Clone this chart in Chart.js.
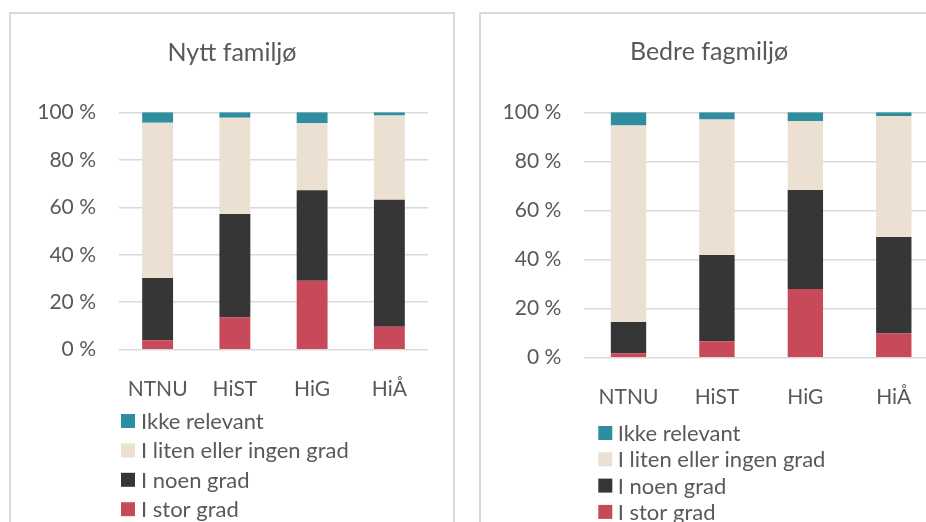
<!DOCTYPE html>
<html>
<head>
<meta charset="utf-8">
<script src="https://cdn.jsdelivr.net/npm/chart.js@4.4.1/dist/chart.umd.min.js"></script>
<style>
    html, body { margin: 0; padding: 0; background: #fff; overflow: hidden; }
    body { width: 926px; height: 522px; position: relative; }
    .box { position: absolute; box-sizing: border-box; border: 2px solid #d9d9d9; background: #fff; }
    canvas { position: absolute; }
</style>
</head>
<body>
<div class="box" style="left:9px; top:12px; width:446px; height:600px;"></div>
<div class="box" style="left:479px; top:12px; width:480px; height:600px;"></div>
<canvas id="chartFamilie" width="444" height="520" style="left:10px; top:12px;"></canvas>
<canvas id="chartFag" width="458" height="520" style="left:480px; top:12px;"></canvas>
<script>
const categories = ['NTNU', 'HiST', 'HiG', 'HiÅ'];
const seriesNames = ['I stor grad', 'I noen grad', 'I liten eller ingen grad', 'Ikke relevant'];
const seriesColors = ['#c84a5a', '#363636', '#ebe0d1', '#2e8e9f'];
const yTicks = [0, 20, 40, 60, 80, 100];

// Nytt familjø
const familieStor = [4.0, 13.6, 29.0, 9.7];
const familieNoen = [26.2, 43.6, 38.2, 53.5];
const familieLiten = [65.4, 40.5, 28.2, 35.4];
const familieIkke = [4.4, 2.3, 4.6, 1.4];

// Bedre fagmiljø
const fagStor = [1.8, 6.7, 28.0, 9.9];
const fagNoen = [12.7, 35.1, 40.3, 39.3];
const fagLiten = [80.1, 55.3, 28.2, 49.3];
const fagIkke = [5.4, 2.9, 3.5, 1.5];

const textColor = '#595959';
const fontName = 'Lato, "Open Sans", sans-serif';

// legend drawn as a vertical list, top item = last series
const stackLegend = {
    id: 'stackLegend',
    afterDraw(chart, args, opts) {
        const ctx = chart.ctx;
        const sets = chart.data.datasets.slice().reverse();
        ctx.save();
        ctx.font = '22px ' + fontName;
        ctx.textBaseline = 'middle';
        ctx.textAlign = 'left';
        sets.forEach((ds, i) => {
            const y = opts.y + i * opts.spacing;
            ctx.fillStyle = ds.backgroundColor;
            ctx.fillRect(opts.x, y - 7, 14, 14);
            ctx.fillStyle = textColor;
            ctx.fillText(ds.label, opts.textX, y + 1);
        });
        ctx.restore();
    }
};

function makeChart(id, title, values, geo) {
    const ctx = document.getElementById(id).getContext('2d');
    return new Chart(ctx, {
        type: 'bar',
        data: {
            labels: categories,
            datasets: values.map((v, i) => ({
                label: seriesNames[i],
                data: v,
                backgroundColor: seriesColors[i],
                borderWidth: 0,
                barPercentage: 0.4,
                categoryPercentage: 1
            }))
        },
        options: {
            responsive: false,
            animation: false,
            layout: {
                padding: { top: 0, left: geo.padLeft, right: geo.padRight, bottom: geo.padBottom }
            },
            plugins: {
                legend: { display: false },
                tooltip: { enabled: false },
                title: {
                    display: true,
                    text: title,
                    color: textColor,
                    font: { family: fontName, size: 25, weight: 'normal' },
                    padding: { top: geo.titleTop, bottom: geo.titleBottom }
                },
                stackLegend: geo.legend
            },
            scales: {
                x: {
                    stacked: true,
                    grid: { display: false },
                    border: { display: false },
                    ticks: {
                        color: textColor,
                        font: { family: fontName, size: 21 },
                        padding: 19
                    },
                    afterFit: (scale) => { scale.height = 60; }
                },
                y: {
                    stacked: true,
                    min: 0,
                    max: 100,
                    afterBuildTicks: (scale) => { scale.ticks = yTicks.map(v => ({ value: v })); },
                    grid: { color: '#d9d9d9', lineWidth: 1.5, drawTicks: false },
                    border: { display: false },
                    ticks: {
                        color: textColor,
                        font: { family: fontName, size: 21 },
                        padding: 23,
                        callback: (v) => v + ' %'
                    },
                    afterFit: (scale) => { scale.width = geo.axisWidth; }
                }
            }
        },
        plugins: [stackLegend]
    });
}

makeChart('chartFamilie', 'Nytt familjø',
    [familieStor, familieNoen, familieLiten, familieIkke],
    {
        padLeft: 26, axisWidth: 83, padRight: 26, padBottom: 122.3,
        titleTop: 25.8, titleBottom: 44.5,
        legend: { x: 111, textX: 131, y: 409, spacing: 29.4 }
    });

makeChart('chartFag', 'Bedre fagmiljø',
    [fagStor, fagNoen, fagLiten, fagIkke],
    {
        padLeft: 0, axisWidth: 104.3, padRight: 0, padBottom: 114.3,
        titleTop: 24.5, titleBottom: 45.8,
        legend: { x: 118.3, textX: 137.7, y: 421, spacing: 26.3 }
    });
</script>
</body>
</html>
